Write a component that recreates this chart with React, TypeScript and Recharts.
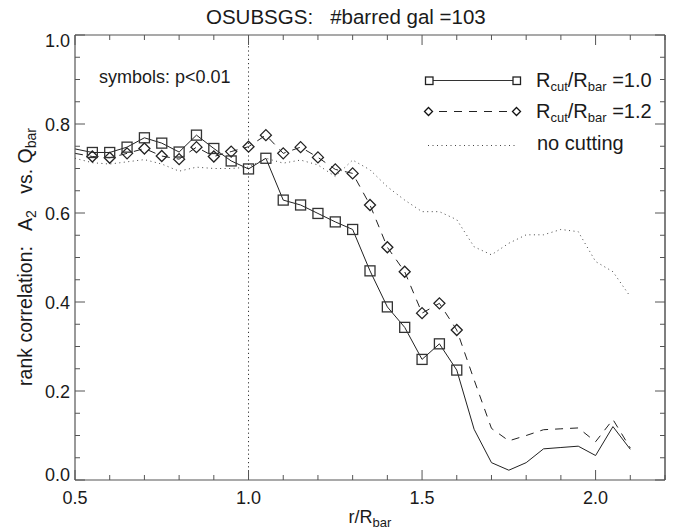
import React from "react";
import { LineChart, Line, XAxis, YAxis, ReferenceLine } from "recharts";

// radius in units of bar length
const R = [
  0.5, 0.55, 0.6, 0.65, 0.7, 0.75, 0.8, 0.85, 0.9, 0.95, 1.0,
  1.05, 1.1, 1.15, 1.2, 1.25, 1.3, 1.35, 1.4, 1.45, 1.5, 1.55,
  1.6, 1.65, 1.7, 1.75, 1.8, 1.85, 1.9, 1.95, 2.0, 2.05, 2.1,
];
// R_cut/R_bar = 1.0 (solid, squares)
const CUT_10 = [
  0.744, 0.736, 0.736, 0.748, 0.769, 0.757, 0.737, 0.775, 0.745, 0.717, 0.699,
  0.723, 0.629, 0.618, 0.599, 0.58, 0.563, 0.47, 0.389, 0.343, 0.271, 0.306,
  0.247, 0.114, 0.039, 0.022, 0.039, 0.07, 0.073, 0.076, 0.055, 0.12, 0.069,
];
// R_cut/R_bar = 1.2 (dashed, diamonds)
const CUT_12 = [
  0.734, 0.727, 0.724, 0.734, 0.745, 0.728, 0.721, 0.748, 0.727, 0.738, 0.749,
  0.775, 0.734, 0.748, 0.725, 0.698, 0.689, 0.618, 0.523, 0.468, 0.375, 0.397,
  0.337, 0.225, 0.116, 0.088, 0.1, 0.113, 0.115, 0.117, 0.086, 0.136, 0.072,
];
// no cutting (dotted)
const NO_CUT = [
  0.723, 0.713, 0.71, 0.715, 0.72, 0.71, 0.694, 0.703, 0.7, 0.7, 0.703,
  0.723, 0.712, 0.719, 0.708, 0.682, 0.719, 0.697, 0.659, 0.629, 0.603, 0.603,
  0.585, 0.524, 0.506, 0.532, 0.551, 0.551, 0.563, 0.558, 0.491, 0.468, 0.412,
];

const X_TICKS = [0.5, 0.6, 0.7, 0.8, 0.9, 1.0, 1.1, 1.2, 1.3, 1.4, 1.5, 1.6, 1.7, 1.8, 1.9, 2.0, 2.1, 2.2];
const Y_TICKS = [
  0, 0.05, 0.1, 0.15, 0.2, 0.25, 0.3, 0.35, 0.4, 0.45, 0.5,
  0.55, 0.6, 0.65, 0.7, 0.75, 0.8, 0.85, 0.9, 0.95, 1.0,
];
// symbols only where p<0.01
const SIG_FROM = 0.55;
const SIG_TO = 1.6;

const data = R.map((r, i) => ({ r, a: CUT_10[i], b: CUT_12[i], c: NO_CUT[i] }));

const FONT = "'Liberation Sans', Arial, Helvetica, sans-serif";
const INK = "#1a1a1a";
const AXIS = "#555";

const isMajorX = (v: number) => Math.abs(v * 2 - Math.round(v * 2)) < 1e-6;
const isMajorY = (v: number) => Math.abs(v * 5 - Math.round(v * 5)) < 1e-6;

function BottomTick(props: any) {
  const { x, y, payload } = props;
  const major = isMajorX(payload.value);
  return (
    <g>
      <line x1={x} x2={x} y1={y} y2={y - (major ? 10 : 5)} stroke={AXIS} />
      {major && (
        <text x={x} y={y + 23.5} textAnchor="middle" fontSize={18} fontFamily={FONT} fill={INK}>
          {payload.value.toFixed(1)}
        </text>
      )}
    </g>
  );
}

function TopTick(props: any) {
  const { x, y, payload } = props;
  const major = isMajorX(payload.value);
  return <line x1={x} x2={x} y1={y} y2={y + (major ? 10 : 5)} stroke={AXIS} />;
}

function LeftTick(props: any) {
  const { x, y, payload } = props;
  const v = payload.value;
  const major = isMajorY(v);
  // end labels are pulled inside the frame
  let base = y + 6.5;
  if (v === 0) base = y + 0.5;
  if (v === 1) base = y + 12;
  return (
    <g>
      <line x1={x} x2={x + (major ? 10 : 5)} y1={y} y2={y} stroke={AXIS} />
      {major && (
        <text x={x - 5} y={base} textAnchor="end" fontSize={18} fontFamily={FONT} fill={INK}>
          {v.toFixed(1)}
        </text>
      )}
    </g>
  );
}

function RightTick(props: any) {
  const { x, y, payload } = props;
  const major = isMajorY(payload.value);
  return <line x1={x} x2={x - (major ? 10 : 5)} y1={y} y2={y} stroke={AXIS} />;
}

const inSig = (r: number) => r > SIG_FROM - 1e-6 && r < SIG_TO + 1e-6;

const squareDot = (props: any) => {
  const { cx, cy, payload, index } = props;
  if (!inSig(payload.r)) return <g key={`sq${index}`} />;
  return (
    <rect key={`sq${index}`} x={cx - 5} y={cy - 5} width={10} height={10}
      fill="none" stroke="#333" strokeWidth={1.3} />
  );
};

const diamondDot = (props: any) => {
  const { cx, cy, payload, index } = props;
  if (!inSig(payload.r)) return <g key={`di${index}`} />;
  return (
    <path key={`di${index}`} d={`M${cx},${cy - 5.5} L${cx + 5.5},${cy} L${cx},${cy + 5.5} L${cx - 5.5},${cy} Z`}
      fill="none" stroke="#222" strokeWidth={1.3} />
  );
};

function Sub({ children, size = 13 }: { children: React.ReactNode; size?: number }) {
  return <tspan fontSize={size} dy={4}>{children}</tspan>;
}

function RatioLabel({ x, y, val }: { x: number; y: number; val: string }) {
  return (
    <text x={x} y={y} fontSize={20} fontFamily={FONT} fill={INK}>
      R<Sub>cut</Sub>
      <tspan dy={-4}>/R</tspan>
      <Sub>bar</Sub>
      <tspan dy={-4}>{` =${val}`}</tspan>
    </text>
  );
}

function Overlay() {
  return (
    <svg width={675} height={529} style={{ position: "absolute", left: 0, top: 0, pointerEvents: "none" }}>
      <text x={206} y={24} fontSize={20.5} fontFamily={FONT} fill={INK} xmlSpace="preserve">
        {"OSUBSGS:   #barred gal =103"}
      </text>
      <text x={99} y={83} fontSize={18} fontFamily={FONT} fill={INK}>symbols: p&lt;0.01</text>

      {/* legend */}
      <line x1={429} x2={517} y1={80.5} y2={80.5} stroke="#333" strokeWidth={1.1} />
      <rect x={425.5} y={77} width={7.5} height={7.5} fill="#fff" stroke="#222" strokeWidth={1.3} />
      <rect x={513} y={77} width={7.5} height={7.5} fill="#fff" stroke="#222" strokeWidth={1.3} />
      <RatioLabel x={536} y={87} val="1.0" />

      <line x1={433} x2={512} y1={111.5} y2={111.5} stroke="#222" strokeWidth={1.1} strokeDasharray="8 7" strokeDashoffset={-6} />
      <path d="M428.5,107.5 L432.5,111.5 L428.5,115.5 L424.5,111.5 Z" fill="#fff" stroke="#111" strokeWidth={1.3} />
      <path d="M516.5,107.5 L520.5,111.5 L516.5,115.5 L512.5,111.5 Z" fill="#fff" stroke="#111" strokeWidth={1.3} />
      <RatioLabel x={536} y={118} val="1.2" />

      <line x1={428} x2={518} y1={145.5} y2={145.5} stroke="#444" strokeWidth={1} strokeDasharray="1 3.5" />
      <text x={537} y={150} fontSize={20} fontFamily={FONT} fill={INK}>no cutting</text>

      {/* axis titles */}
      <text x={370} y={523} textAnchor="middle" fontSize={18} fontFamily={FONT} fill={INK}>
        r/R<Sub>bar</Sub>
      </text>
      <text transform="translate(32,257) rotate(-90)" textAnchor="middle" fontSize={19.5}
        fontFamily={FONT} fill={INK} xmlSpace="preserve">
        {"rank correlation:   A"}
        <Sub size={14}>2</Sub>
        <tspan dy={-4}>{"   vs. Q"}</tspan>
        <Sub size={14}>bar</Sub>
      </text>
    </svg>
  );
}

export default function App() {
  return (
    <div style={{ position: "absolute", left: 0, top: 0, width: 675, height: 529, background: "#fff" }}>
      <LineChart width={675} height={529} data={data} margin={{ top: 34, right: 9, bottom: 48, left: 74 }}>
        <XAxis xAxisId="b" dataKey="r" type="number" domain={[0.5, 2.2]} ticks={X_TICKS} interval={0}
          height={1} tickSize={0} tickMargin={0} tickLine={false} tick={<BottomTick />}
          axisLine={{ stroke: AXIS, strokeWidth: 1.2 }} allowDataOverflow />
        <XAxis xAxisId="t" orientation="top" dataKey="r" type="number" domain={[0.5, 2.2]} ticks={X_TICKS}
          interval={0} height={1} tickSize={0} tickMargin={0} tickLine={false} tick={<TopTick />}
          axisLine={{ stroke: AXIS, strokeWidth: 1.2 }} allowDataOverflow />
        <YAxis yAxisId="l" type="number" domain={[0, 1]} ticks={Y_TICKS} interval={0} width={1}
          tickSize={0} tickMargin={0} tickLine={false} tick={<LeftTick />}
          axisLine={{ stroke: AXIS, strokeWidth: 1.2 }} allowDataOverflow />
        <YAxis yAxisId="r" orientation="right" type="number" domain={[0, 1]} ticks={Y_TICKS} interval={0}
          width={1} tickSize={0} tickMargin={0} tickLine={false} tick={<RightTick />}
          axisLine={{ stroke: AXIS, strokeWidth: 1.5 }} allowDataOverflow />
        <ReferenceLine xAxisId="b" yAxisId="l" x={1.0} stroke="#333" strokeDasharray="1.2 3" />
        <Line xAxisId="b" yAxisId="l" dataKey="c" type="linear" stroke="#444" strokeWidth={1}
          strokeDasharray="1 3.5" dot={false} isAnimationActive={false} />
        <Line xAxisId="b" yAxisId="l" dataKey="b" type="linear" stroke="#222" strokeWidth={1}
          strokeDasharray="8 7" dot={diamondDot} isAnimationActive={false} />
        <Line xAxisId="b" yAxisId="l" dataKey="a" type="linear" stroke="#222" strokeWidth={1}
          dot={squareDot} isAnimationActive={false} />
      </LineChart>
      <Overlay />
    </div>
  );
}
